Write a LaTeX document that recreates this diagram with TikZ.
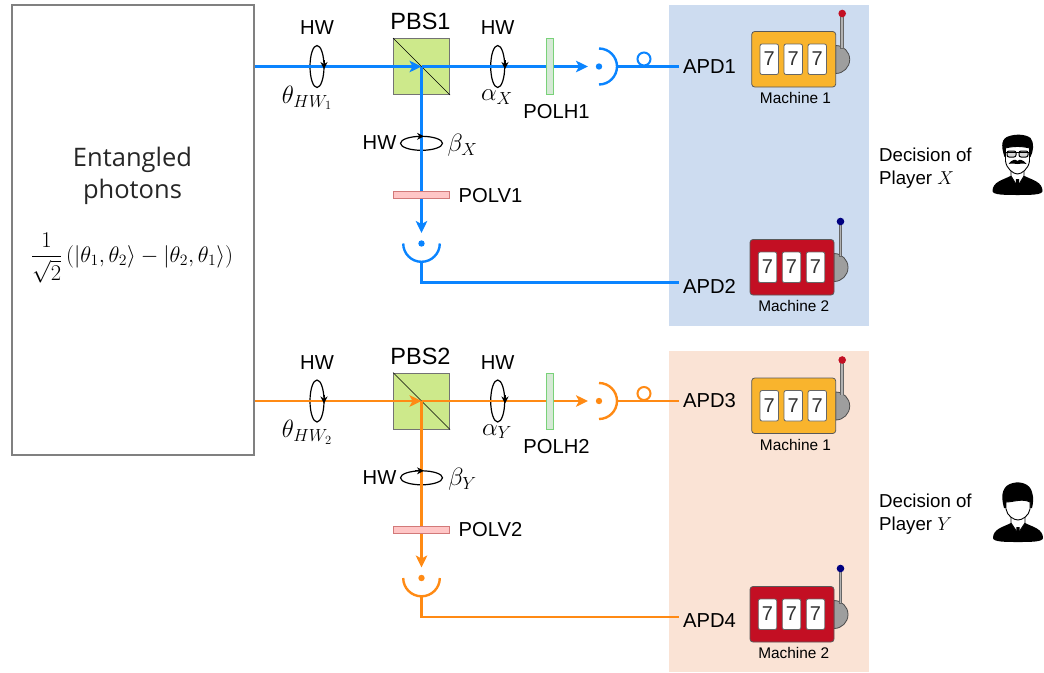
\documentclass[tikz,border=0pt]{standalone}
\usepackage{fix-cm}
\usepackage{amsmath, amssymb}
\usepackage{fontspec}
\setmainfont{Liberation Sans}
\newfontfamily\srcfont{Open Sans}
\usepackage{tikz}
\usetikzlibrary{arrows.meta}

\definecolor{beamA}{HTML}{0A84FF}
\definecolor{beamB}{HTML}{FF8A14}
\definecolor{panelA}{HTML}{CDDCF0}
\definecolor{panelB}{HTML}{FAE3D5}
\definecolor{pbsfill}{HTML}{CDE98B}
\definecolor{casinoY}{HTML}{F9B42D}
\definecolor{casinoR}{HTML}{C30F23}

\tikzset{
  lab/.style={font=\fontsize{20.2}{22}\selectfont, text=black, inner sep=4pt},
  mathlab/.style={font=\fontsize{25}{28}\selectfont, text=black, inner sep=0pt},
  beam/.style={line width=2.4pt},
  tip/.style={-{Stealth[length=12pt, width=11.5pt, inset=3pt]}},
  plate/.style={draw=black, line width=1.2pt},
  spin/.style={line width=0.8pt, -{Stealth[length=7pt, width=7pt]}},
  pbs/.style={draw=black!55, line width=1pt, fill=pbsfill, minimum size=56pt, inner sep=0pt},
  polh/.style={draw=green!50!gray!70, line width=1pt, fill=green!30!gray!25, minimum width=7pt, minimum height=56pt, inner sep=0pt},
  polv/.style={draw=red!50!gray!70, line width=1pt, fill=red!50!white!45, minimum width=56pt, minimum height=7pt, inner sep=0pt},
  slot/.style={draw=black!60, line width=0.8pt, fill=white, rounded corners=2pt}
}

% slot machine: corner x, corner y, body, knob, name, label
\newcommand{\machine}[6]{
  \begin{scope}[shift={(#1,#2)}]
    \draw[black!70, line width=0.8pt, fill=black!38] (84,14) arc[start angle=90, end angle=-90, radius=14pt] -- cycle;
    \draw[black!60, line width=3.6pt] (90.5,-18) -- (90.5,17);
    \draw[black!30, line width=1.6pt] (90.5,-18) -- (90.5,16.5);
    \fill[#4] (90.5,-18) circle (3.8pt);
    \draw[black!65, line width=0.8pt, fill=#3, rounded corners=3pt] (0,0) rectangle (84,55.5);
    \foreach \s in {0,1,2} {
      \draw[slot] (8.3+24*\s,12.5) rectangle +(18.5,30.5);
      \node[font=\fontsize{20}{22}\selectfont, text=black!80, inner sep=0pt] at (17.5+24*\s,27.5) {7};
    }
    \node[font=\fontsize{15.4}{18}\selectfont, text=black, inner sep=0pt] (#5) at (43.8,66.5) {#6};
  \end{scope}
}

\begin{document}
\begin{tikzpicture}[x=1pt, y=-1pt]
  \useasboundingbox (0,0) rectangle (1044,672);

  % Panels
  \fill[panelA] (669,5) rectangle (869,325.5);
  \fill[panelB] (669,351) rectangle (869,672);

  % Source box
  \node[draw=black!50, line width=2pt, minimum width=242pt, minimum height=450pt, inner sep=0pt] (src) at (132.5,230) {};
  \node[font=\srcfont\fontsize{25.5}{32}\selectfont, text=black!85, align=center, inner sep=0pt] (srctext) at (132.5,175.5) {Entangled\\photons};
  \node[font=\fontsize{22.5}{26}\selectfont, text=black, inner sep=0pt] (state) at (132,258)
    {$\dfrac{1}{\sqrt{2}}\left(|\theta_1,\theta_2\rangle-|\theta_2,\theta_1\rangle\right)$};

  % Both arms
  \foreach \r/\dy/\col/\who/\apdu/\apdl in {1/0/beamA/X/1/2, 2/334.5/beamB/Y/3/4} {
    \begin{scope}[shift={(0,\dy)}]
      \coordinate (in\r) at (src.east |- 0,66.5);
      \node[pbs] (pbs\r) at (421.5,66.5) {};
      \draw[black, line width=0.7pt] (pbs\r.north west) -- (pbs\r.south east);
      \node[lab, font=\fontsize{23.5}{26}\selectfont] (pbstext\r) at (420.5,21.5) {PBS\r};

      % Half waves
      \coordinate (hwa\r) at (317,66.5);
      \coordinate (hwb\r) at (497.7,66.5);
      \coordinate (hwc\r) at (421.5,143.3);
      \draw[plate] (hwa\r) ellipse [x radius=7pt, y radius=21pt];
      \draw[plate] (hwb\r) ellipse [x radius=7pt, y radius=21pt];
      \draw[plate] (hwc\r) ellipse [x radius=21pt, y radius=7pt];
      \node[lab] (hwatext\r) at (317,28) {HW};
      \node[lab] (hwbtext\r) at (497.7,28) {HW};
      \node[lab] (hwctext\r) at (379.5,143) {HW};
      \node[mathlab] (thetatext\r) at (307,98) {$\theta_{HW_\r}$};
      \node[mathlab] (alphatext\r) at (497,97) {$\alpha_{\who}$};
      \node[mathlab] (betatext\r) at (462.5,145) {$\beta_{\who}$};

      % Detectors
      \coordinate (deta\r) at (599,66.5);
      \coordinate (detb\r) at (421.5,243.5);
      \coordinate (arma\r) at (617,66.5);
      \coordinate (armb\r) at (421.5,262);
      \draw[\col, beam] (599,48.5) arc[start angle=90, end angle=-90, radius=18pt];
      \draw[\col, beam] (403.2,243.5) arc[start angle=180, end angle=360, radius=18.3pt];
      \fill[\col] (deta\r) circle (3.2pt);
      \fill[\col] (detb\r) circle (3.2pt);
      \draw[\col, line width=2pt, fill=white] (644,59) circle (6.5pt);

      % APD labels
      \node[lab, anchor=west] (apda\r) at (679,66.5) {APD\apdu};
      \node[lab, anchor=west] (apdb\r) at (679,286) {APD\apdl};

      % Beams
      \draw[\col, beam, tip] (in\r) -- (pbs\r.center);
      \draw[\col, beam, tip] (pbs\r.center) -- (588,66.5);
      \draw[\col, beam, tip] (pbs\r.center) -- (421.5,233);
      \draw[\col, beam] (arma\r) -- (apda\r.west);
      \draw[\col, beam] (armb\r) |- ([yshift=3.5pt]apdb\r.west);

      % Turn marks sit on the beams
      \draw[spin] (324,60) -- (324,69);
      \draw[spin] (505,60) -- (505,69);
      \draw[spin] (415,136.3) -- (424,136.3);

      % Polarizers
      \node[polh] (polh\r) at (550.2,66.5) {};
      \node[polv] (polv\r) at (421.5,195) {};
      \node[lab] (polhtext\r) at (556.5,112) {POLH\r};
      \node[lab] (polvtext\r) at (490.5,195.5) {POLV\r};
    \end{scope}
  }

  % Machines
  \machine{751.7}{31.5}{casinoY}{casinoR}{maca}{Machine 1}
  \machine{750}{239.5}{casinoR}{blue!50!black}{macb}{Machine 2}
  \machine{751.7}{378}{casinoY}{casinoR}{macc}{Machine 1}
  \machine{750}{586.5}{casinoR}{blue!50!black}{macd}{Machine 2}

  % Players
  \node[font=\fontsize{18.7}{23}\selectfont, text=black, align=left, anchor=west, inner sep=0pt] (playerX) at (879,168) {Decision of\\Player $X$};
  \node[font=\fontsize{18.7}{23}\selectfont, text=black, align=left, anchor=west, inner sep=0pt] (playerY) at (879,514) {Decision of\\Player $Y$};

  % Man with glasses
  \begin{scope}[shift={(1017.5,165)}]
    \fill[black] (-25,26) .. controls (-25,17) and (-15,15) .. (-7,11) -- (7,11) .. controls (15,15) and (25,17) .. (25,26) .. controls (25,30) and (12,30) .. (0,30) .. controls (-12,30) and (-25,30) .. cycle;
    \fill[black] (-13,-8) .. controls (-17,-20) and (-16,-27) .. (-8,-29) .. controls (-2,-31) and (8,-31) .. (13,-27) .. controls (17,-22) and (16,-14) .. (13,-8) -- cycle;
    \draw[black, line width=0.9pt, fill=white] (-6.5,4) -- (-6.5,11) -- (-1,20) -- (1,20) -- (6.5,11) -- (6.5,4) -- cycle;
    \draw[black, line width=0.9pt, fill=white] (-12,-17) .. controls (-4,-19) and (4,-19) .. (12,-17) -- (12,-4) .. controls (11,4) and (4,9) .. (0,9) .. controls (-4,9) and (-11,4) .. (-12,-4) -- cycle;
    \draw[black, line width=1pt, fill=black!15, rounded corners=2pt] (-10.5,-14) rectangle (-1.5,-8);
    \draw[black, line width=1pt, fill=black!15, rounded corners=2pt] (1.5,-14) rectangle (10.5,-8);
    \draw[black, line width=1pt] (-13,-13) -- (13,-13);
    \fill[black] (-9,-1) .. controls (-5,-6) and (-2,-6) .. (0,-4) .. controls (2,-6) and (5,-6) .. (9,-1) .. controls (5,-2) and (2,-1) .. (0,-1) .. controls (-2,-1) and (-5,-2) .. (-9,-1) -- cycle;
    \fill[black] (-1.5,14) -- (1.5,14) -- (2,24) -- (0,26) -- (-2,24) -- cycle;
  \end{scope}

  % Man with short hair
  \begin{scope}[shift={(1018,512)}]
    \fill[black] (-25,26) .. controls (-25,17) and (-15,15) .. (-7,11) -- (7,11) .. controls (15,15) and (25,17) .. (25,26) .. controls (25,30) and (12,30) .. (0,30) .. controls (-12,30) and (-25,30) .. cycle;
    \fill[black] (-14,-4) .. controls (-18,-18) and (-15,-27) .. (-5,-29) .. controls (3,-31) and (12,-28) .. (14,-20) .. controls (16,-14) and (15,-8) .. (14,-4) -- cycle;
    \draw[black, line width=0.9pt, fill=white] (-7,4) -- (-7,11) -- (-1,20) -- (1,20) -- (7,11) -- (7,4) -- cycle;
    \draw[black, line width=0.9pt, fill=white] (-12,-10) .. controls (-4,-10) and (4,-14) .. (12,-10) -- (12,-3) .. controls (11,4) and (4,8) .. (0,8) .. controls (-4,8) and (-11,4) .. (-12,-3) -- cycle;
    \fill[black] (-1.5,15) -- (1.5,15) -- (2,24) -- (0,26) -- (-2,24) -- cycle;
  \end{scope}
\end{tikzpicture}
\end{document}
